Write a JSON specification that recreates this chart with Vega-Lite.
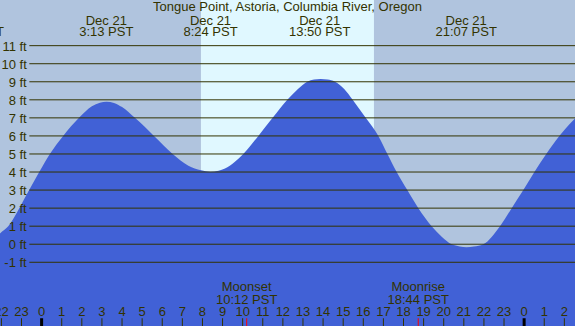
{
  "$schema": "https://vega.github.io/schema/vega-lite/v6.json",
  "width": 575,
  "height": 326,
  "padding": 0,
  "autosize": {"type": "none"},
  "background": "#B0C4DE",
  "config": {"view": {"stroke": null, "fill": "#B0C4DE"}, "text": {"font": "Liberation Sans", "fontSize": 13, "color": "#333300"}},
  "datasets": {
    "tide": [
      {"hour": -2.3, "ft": 0.28}, {"hour": -2.07, "ft": 0.6}, {"hour": -1.66, "ft": 1.0}, {"hour": -1.11, "ft": 2.0},
      {"hour": -0.62, "ft": 3.0}, {"hour": -0.12, "ft": 4.0}, {"hour": 0.41, "ft": 5.0}, {"hour": 1.07, "ft": 6.0},
      {"hour": 1.86, "ft": 7.0}, {"hour": 2.5, "ft": 7.64}, {"hour": 2.9, "ft": 7.84}, {"hour": 3.23, "ft": 7.9},
      {"hour": 3.6, "ft": 7.83}, {"hour": 4.0, "ft": 7.6},
      {"hour": 4.64, "ft": 7.0}, {"hour": 5.59, "ft": 6.0}, {"hour": 6.52, "ft": 5.0}, {"hour": 7.3, "ft": 4.35},
      {"hour": 7.93, "ft": 4.1}, {"hour": 8.4, "ft": 4.02}, {"hour": 8.8, "ft": 4.07}, {"hour": 9.12, "ft": 4.19}, {"hour": 9.6, "ft": 4.55},
      {"hour": 10.03, "ft": 5.0}, {"hour": 10.78, "ft": 6.0}, {"hour": 11.49, "ft": 7.0}, {"hour": 12.22, "ft": 8.0},
      {"hour": 12.75, "ft": 8.6}, {"hour": 13.21, "ft": 9.0}, {"hour": 13.55, "ft": 9.13}, {"hour": 13.88, "ft": 9.16},
      {"hour": 14.22, "ft": 9.12}, {"hour": 14.59, "ft": 9.0}, {"hour": 15.05, "ft": 8.6}, {"hour": 15.47, "ft": 8.0},
      {"hour": 16.12, "ft": 7.0}, {"hour": 16.75, "ft": 6.0}, {"hour": 17.2, "ft": 5.0}, {"hour": 17.66, "ft": 4.0},
      {"hour": 18.19, "ft": 3.0}, {"hour": 18.74, "ft": 2.0}, {"hour": 19.4, "ft": 1.0}, {"hour": 19.9, "ft": 0.42},
      {"hour": 20.4, "ft": 0.0}, {"hour": 20.8, "ft": -0.12}, {"hour": 21.13, "ft": -0.17}, {"hour": 21.5, "ft": -0.13},
      {"hour": 21.97, "ft": 0.0}, {"hour": 22.8, "ft": 1.0}, {"hour": 23.38, "ft": 2.0}, {"hour": 23.96, "ft": 3.0},
      {"hour": 24.51, "ft": 4.0}, {"hour": 25.1, "ft": 5.0}, {"hour": 25.75, "ft": 6.0}, {"hour": 26.0, "ft": 6.33},
      {"hour": 26.6, "ft": 7.05}
    ],
    "levels": [
      {"ft": 11, "label": "11 ft"}, {"ft": 10, "label": "10 ft"}, {"ft": 9, "label": "9 ft"}, {"ft": 8, "label": "8 ft"},
      {"ft": 7, "label": "7 ft"}, {"ft": 6, "label": "6 ft"}, {"ft": 5, "label": "5 ft"}, {"ft": 4, "label": "4 ft"},
      {"ft": 3, "label": "3 ft"}, {"ft": 2, "label": "2 ft"}, {"ft": 1, "label": "1 ft"}, {"ft": 0, "label": "0 ft"},
      {"ft": -1, "label": "-1 ft"}
    ],
    "hours": [
      {"hour": -2, "label": "22"}, {"hour": -1, "label": "23"}, {"hour": 0, "label": "0"}, {"hour": 1, "label": "1"},
      {"hour": 2, "label": "2"}, {"hour": 3, "label": "3"}, {"hour": 4, "label": "4"}, {"hour": 5, "label": "5"},
      {"hour": 6, "label": "6"}, {"hour": 7, "label": "7"}, {"hour": 8, "label": "8"}, {"hour": 9, "label": "9"},
      {"hour": 10, "label": "10"}, {"hour": 11, "label": "11"}, {"hour": 12, "label": "12"}, {"hour": 13, "label": "13"},
      {"hour": 14, "label": "14"}, {"hour": 15, "label": "15"}, {"hour": 16, "label": "16"}, {"hour": 17, "label": "17"},
      {"hour": 18, "label": "18"}, {"hour": 19, "label": "19"}, {"hour": 20, "label": "20"}, {"hour": 21, "label": "21"},
      {"hour": 22, "label": "22"}, {"hour": 23, "label": "23"}, {"hour": 24, "label": "0"}, {"hour": 25, "label": "1"},
      {"hour": 26, "label": "2"}
    ],
    "events": [
      {"hour": -3.4, "date": "Dec 20", "time": "20:36 PST"},
      {"hour": 3.217, "date": "Dec 21", "time": "3:13 PST"},
      {"hour": 8.4, "date": "Dec 21", "time": "8:24 PST"},
      {"hour": 13.833, "date": "Dec 21", "time": "13:50 PST"},
      {"hour": 21.117, "date": "Dec 21", "time": "21:07 PST"}
    ],
    "moon": [
      {"hour": 10.2, "event": "Moonset", "time": "10:12 PST"},
      {"hour": 18.733, "event": "Moonrise", "time": "18:44 PST"}
    ],
    "daylight": [{"sunrise": 7.925, "sunset": 16.53}]
  },
  "encoding": {
    "x": {"type": "quantitative", "scale": {"domain": [-2.07, 26.53], "nice": false, "zero": false}, "axis": null},
    "y": {"type": "quantitative", "scale": {"domain": [-4.53, 13.53], "nice": false, "zero": false}, "axis": null}
  },
  "layer": [
    {
      "data": {"name": "daylight"},
      "mark": {"type": "rect", "color": "#E0F8FF"},
      "encoding": {"x": {"field": "sunrise", "type": "quantitative"}, "x2": {"field": "sunset"}, "y": null}
    },
    {
      "data": {"name": "tide"},
      "mark": {"type": "area", "color": "#4161D6", "interpolate": "monotone", "clip": true, "opacity": 1},
      "encoding": {"x": {"field": "hour", "type": "quantitative"}, "y": {"field": "ft", "type": "quantitative"}, "y2": {"datum": -4.53}}
    },
    {
      "data": {"name": "levels"},
      "mark": {"type": "rule", "color": "#333300", "strokeWidth": 1},
      "encoding": {"x": {"datum": -0.61}, "x2": {"datum": 26.7}, "y": {"field": "ft", "type": "quantitative"}}
    },
    {
      "data": {"name": "levels"},
      "mark": {"type": "text", "align": "right", "baseline": "alphabetic", "dy": 5},
      "encoding": {"x": {"datum": -0.74}, "y": {"field": "ft", "type": "quantitative"}, "text": {"field": "label"}}
    },
    {
      "data": {"name": "hours"},
      "mark": {"type": "rule"},
      "encoding": {
        "x": {"field": "hour", "type": "quantitative"},
        "y": {"datum": -4.1}, "y2": {"datum": -4.6},
        "strokeWidth": {"condition": {"test": "datum.hour % 24 === 0", "value": 3}, "value": 1},
        "color": {"condition": {"test": "datum.hour % 24 === 0", "value": "#000000"}, "value": "#333300"}
      }
    },
    {
      "data": {"name": "moon"},
      "mark": {"type": "rule", "color": "#FF0000", "strokeWidth": 1},
      "encoding": {"x": {"field": "hour", "type": "quantitative"}, "y": {"datum": -4.1}, "y2": {"datum": -4.6}}
    },
    {
      "data": {"name": "hours"},
      "mark": {"type": "text", "align": "center", "baseline": "alphabetic"},
      "encoding": {"x": {"field": "hour", "type": "quantitative"}, "y": {"datum": -3.97}, "text": {"field": "label"}}
    },
    {
      "data": {"name": "moon"},
      "mark": {"type": "text", "align": "center", "baseline": "alphabetic"},
      "encoding": {"x": {"field": "hour", "type": "quantitative"}, "y": {"datum": -2.59}, "text": {"field": "event"}}
    },
    {
      "data": {"name": "moon"},
      "mark": {"type": "text", "align": "center", "baseline": "alphabetic"},
      "encoding": {"x": {"field": "hour", "type": "quantitative"}, "y": {"datum": -3.29}, "text": {"field": "time"}}
    },
    {
      "data": {"name": "events"},
      "mark": {"type": "text", "align": "center", "baseline": "alphabetic", "clip": true},
      "encoding": {"x": {"field": "hour", "type": "quantitative"}, "y": {"datum": 12.17}, "text": {"field": "date"}}
    },
    {
      "data": {"name": "events"},
      "mark": {"type": "text", "align": "center", "baseline": "alphabetic", "clip": true},
      "encoding": {"x": {"field": "hour", "type": "quantitative"}, "y": {"datum": 11.54}, "text": {"field": "time"}}
    },
    {
      "data": {"values": [{"title": "Tongue Point, Astoria, Columbia River, Oregon"}]},
      "mark": {"type": "text", "align": "center", "baseline": "alphabetic"},
      "encoding": {"x": {"datum": 12.23}, "y": {"datum": 12.93}, "text": {"field": "title"}}
    }
  ]
}
